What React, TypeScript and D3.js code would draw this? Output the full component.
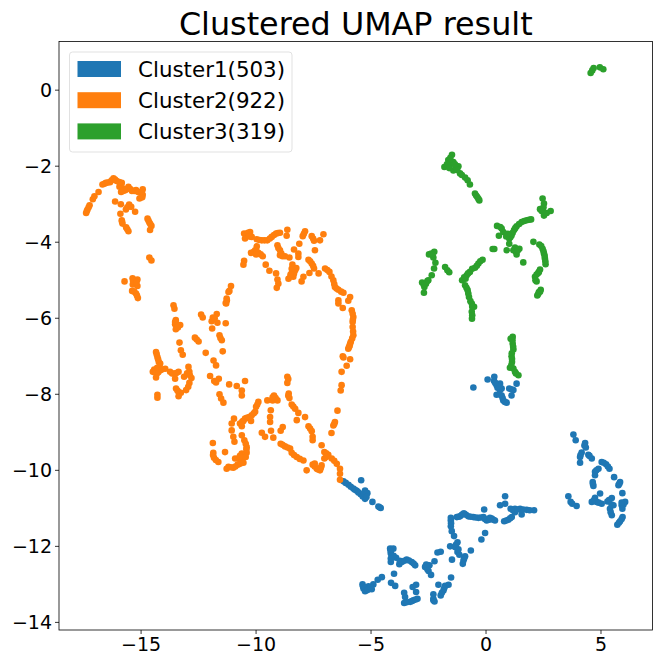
import React from "react";
import * as d3 from "d3";

const title = "Clustered UMAP result";
const clusterNames = ["Cluster1(503)", "Cluster2(922)", "Cluster3(319)"];
const clusterColors = ["#1f77b4", "#ff7f0e", "#2ca02c"];
const xTicks = [-15, -10, -5, 0, 5];
const yTicks = [0, -2, -4, -6, -8, -10, -12, -14];

const cluster1: [number, number][] = [
[-0.55,-7.82],[0.07,-7.61],[0.36,-7.54],[0.35,-7.65],[0.46,-7.76],[0.61,-7.72],[0.68,-7.85],[1.01,-7.85],[1.19,-7.89],[1.33,-7.72],[1.11,-8.03],[0.46,-8.01],[0.68,-8.03],[0.75,-8.16],[0.9,-8.22],[0.61,-7.89],
[-6.2,-10.29],[-5.98,-10.38],[-5.77,-10.48],[-5.62,-10.54],[-5.45,-10.63],[-5.26,-10.75],[-5.43,-10.26],[-5.26,-10.53],[-5.16,-10.6],[-4.94,-10.83],[-4.68,-10.95],[-4.58,-10.99],
[-1.53,-11.32],[-1.53,-11.47],[-1.49,-11.6],[-1.39,-11.73],[-1.27,-11.23],[-0.95,-11.14],[-1.13,-11.21],[-0.77,-11.21],[-0.55,-11.23],[-0.33,-11.25],[-0.11,-11.23],[-0.08,-11.03],[0.03,-11.32],[0.25,-11.27],[0.39,-11.32],[0.79,-11.34],[0.97,-11.3],[1.12,-11.23],[0.61,-10.92],[0.83,-10.88],[0.83,-10.68],[1.07,-11.01],[1.26,-11.01],[1.48,-11.01],[1.77,-11.04],[2.09,-11.05],[1.55,-11.16],[1.26,-11.1],
[-0.04,-11.65],[-0.2,-11.82],[-0.66,-12.11],[-1.24,-11.89],[-1.56,-12],[-1.35,-12.02],[-1.24,-12.15],[-1.16,-12.22],[-1.48,-12.35],[-0.91,-12.26],[-0.98,-12.37],[-1.01,-12.46],[-2.11,-12.16],[-1.97,-12.14],[-2.24,-12.39],[-2.65,-12.54],[-2.46,-12.5],[-2.5,-12.65],[-2.39,-12.75],
[-4.17,-12.06],[-4.03,-12.06],[-4.14,-12.19],[-4.14,-12.41],[-3.91,-12.3],[-3.77,-12.47],[-3.66,-12.41],[-3.45,-12.35],[-3.23,-12.41],[-3.08,-12.5],[-4,-12.72],[-4.13,-12.96],[-3.95,-13.04],[-4.53,-12.81],[-4.71,-12.88],[-5.37,-13],[-5.33,-13.11],[-5.26,-13.18],[-5.11,-13.05],[-4.97,-13.13],[-4.9,-13],
[-3.04,-13.01],[-3.19,-13.07],[-3.56,-13.22],[-3.52,-13.33],[-3.56,-13.49],[-3.3,-13.46],[-3.16,-13.42],[-2.98,-13.38],[-3.04,-13.2],[-2.29,-13.26],[-2.29,-13.42],[-2.07,-13.01],[-1.78,-13.04],[-1.85,-13.16],[-1.97,-13.29],[-1.63,-13.01],[-1.52,-12.82],
[3.8,-9.06],[3.9,-9.21],[4.31,-9.28],[4.34,-9.4],[4.16,-9.53],[4.09,-9.65],[4.09,-9.8],[4.45,-9.59],[4.6,-9.69],[5.03,-9.78],[5.22,-9.84],[5.37,-9.96],[4.89,-9.96],[4.74,-10.04],[4.74,-10.13],[5.57,-10.18],[5.83,-10.31],[5.76,-10.39],[4.64,-10.31],[4.67,-10.41],[5.93,-10.6],[4.96,-10.61],[4.74,-10.72],[4.6,-10.83],[4.81,-10.83],[5.03,-10.88],[5.47,-10.73],[5.28,-10.82],[5.54,-10.92],[5.39,-11.01],[5.47,-11.18],[6.05,-10.83],[5.9,-10.92],[5.93,-11.01],[5.94,-11.23],[5.83,-11.34],[5.71,-11.43],[3.58,-10.68],[3.68,-10.83],[3.94,-10.94],
[-6.1,-10.33],[-5.88,-10.43],[-5.7,-10.51],[-5.55,-10.58],[-5.36,-10.69],[-5.3,-10.6],[-5.2,-10.7],[-4.63,-10.97],
[-1.2,-11.22],[-1.05,-11.17],[-0.87,-11.17],[-0.66,-11.22],[-0.44,-11.24],[-0.22,-11.24],[-0.05,-11.28],[0.14,-11.3],[0.32,-11.3],[0.17,-11.25],[0.88,-11.32],[1.05,-11.26],[1.17,-11.05],[1.37,-11.03],[1.62,-11.03],[1.9,-11.05],[-0.98,-11.14],[-1.52,-11.39],[-1.53,-11.25],
[-5.2,-13.1],[-5.35,-13.05],[-5.15,-13.15],[-5.02,-13.08],[-3.75,-12.38],[-3.55,-12.38],[-3.35,-12.37],[-3.15,-12.45],[-4.15,-12.12],[-4.02,-12.25],[-4.14,-12.32],[-3.45,-13.47],[-3.22,-13.44],[-3.07,-13.4],[-2.29,-13.38],[-2.24,-13.45],[-1.92,-13.22],[-1.82,-13.1],[-1.2,-12.08],[-1.3,-11.95],[-2.55,-12.6],[-2.6,-12.48],[-0.95,-12.32],
[0.5,-7.83],[0.55,-7.8],[0.72,-8.1],[0.82,-8.2],[0.58,-8],[0.4,-7.7],[1.1,-7.87],
[4.28,-9.35],[4.11,-9.6],[4.5,-9.62],[5.12,-9.8],[5.3,-9.9],[4.8,-10],[5.8,-10.35],[4.65,-10.36],[4.7,-10.78],[4.9,-10.85],[5.35,-10.78],[5.46,-10.9],[5.42,-11.1],[5.98,-10.9],[5.9,-10.85],[5.78,-11.38],[5.9,-11.28],[3.75,-10.88],
];

const cluster2: [number, number][] = [
[-17.39,-3.23],[-17.33,-3.14],[-17.24,-3.03],[-17.1,-2.87],[-17.03,-2.79],[-16.85,-2.68],[-16.68,-2.48],[-16.53,-2.44],[-16.35,-2.42],[-16.2,-2.32],[-16.06,-2.39],[-15.84,-2.44],[-15.94,-2.54],[-15.87,-2.68],[-15.69,-2.63],[-15.55,-2.54],[-15.4,-2.65],[-15.22,-2.63],[-15.04,-2.7],[-14.93,-2.61],[-14.93,-2.75],[-15.07,-2.85],
[-16.13,-2.93],[-15.88,-3],[-15.9,-3.25],[-15.66,-3.14],[-15.52,-3.01],[-15.43,-3.07],[-15.26,-3.2],[-15.84,-3.42],[-15.81,-3.51],[-15.65,-3.61],[-15.55,-3.71],[-14.72,-3.38],[-14.64,-3.48],[-14.55,-3.57],[-14.61,-3.68],[-14.64,-4.4],[-14.55,-4.48],
[-15.72,-5.03],[-15.37,-4.95],[-15.16,-4.98],[-15.36,-5.11],[-15.16,-5.15],[-15.39,-5.28],[-15.22,-5.35],[-15.14,-5.47],
[-13.59,-5.66],[-13.55,-5.75],[-13.49,-6.05],[-13.52,-6.16],[-13.3,-6.18],[-13.49,-6.29],[-12.39,-5.9],[-12.32,-5.98],[-11.71,-5.89],[-11.88,-5.98],[-11.93,-6.08],[-11.68,-6.12],[-11.32,-6.13],[-11.91,-6.27],[-12.66,-6.51],[-12.5,-6.61],[-11.59,-6.45],[-11.49,-6.58],[-13.33,-6.64],[-13.27,-6.84],[-13.19,-6.96],[-12.19,-6.91],[-11.45,-6.87],[-11.85,-7.11],[-11.74,-7.24],[-12,-7.52],[-11.82,-7.65],[-11.62,-7.59],[-11.74,-7.69],[-11.17,-7.74],[-11.59,-8],[-11.52,-8.11],[-11.42,-8.22],
[-14.35,-6.89],[-14.29,-7.02],[-14.23,-7.15],[-14.17,-7.19],[-14.43,-7.35],[-14.32,-7.46],[-14.17,-7.37],[-13.95,-7.33],[-13.74,-7.41],[-13.56,-7.46],[-13.37,-7.41],[-13.52,-7.59],[-13.13,-7.54],[-12.94,-7.28],[-12.9,-7.41],[-12.81,-7.57],[-12.9,-7.7],[-13.04,-7.89],[-13.48,-7.85],[-13.37,-7.94],[-13.27,-7.96],[-13.37,-8.05],[-14.29,-8.01],[-14.29,-8.09],[-14.35,-7.56],[-14.49,-7.41],
[-11.27,-5.53],[-11.2,-5.31],[-11.32,-5.6],
[-10.52,-3.77],[-10.48,-3.9],[-10.26,-3.73],[-10.19,-3.86],[-9.97,-3.92],[-9.75,-3.95],[-9.51,-3.95],[-9.32,-3.86],[-9.13,-3.77],[-8.96,-3.75],[-8.64,-3.67],[-8.67,-3.83],[-7.87,-3.71],[-7.97,-3.84],[-7.58,-3.84],[-7.48,-3.96],[-7.07,-3.79],[-7.22,-3.95],[-7.44,-4.21],[-8.12,-4.04],[-8.35,-4.19],[-8.16,-4.3],[-8.16,-4.39],
[-9.97,-4.11],[-10.22,-4.28],[-10.04,-4.21],[-9.9,-4.28],[-9.71,-4.37],[-9.07,-4.08],[-8.96,-4.21],[-8.96,-4.34],[-8.74,-4.37],[-8.55,-4.4],[-10.52,-4.49],[-10.55,-4.59],[-7.72,-4.46],[-7.58,-4.56],[-7.48,-4.69],[-7.68,-4.81],[-7.28,-4.82],[-8.42,-4.59],[-8.3,-4.74],[-8.45,-4.82],[-8.59,-4.96],[-8.38,-4.91],[-7.94,-4.91],[-8.02,-5.03],[-9.58,-4.59],[-9.42,-4.75],[-9.13,-4.82],[-9.07,-4.98],[-9.03,-5.09],[-9.1,-5.2],
[-7,-4.69],[-6.81,-4.78],[-6.64,-5],[-6.57,-5.18],[-6.42,-5.25],[-6.2,-5.33],[-5.91,-5.44],[-5.99,-5.54],[-6.42,-5.53],[-6.42,-5.61],[-6.23,-5.73],[-5.84,-5.79],[-5.77,-5.97],[-5.8,-6.1],[-5.8,-6.23],[-5.77,-6.45],[-5.88,-6.62],[-5.99,-6.8],[-5.91,-6.67],[-6.23,-7],[-5.91,-7.08],[-6.06,-7.25],[-6.28,-7.41],[-6.28,-7.76],[-6.32,-7.9],[-6.46,-8.43],[-6.57,-8.73],[-6.64,-8.82],[-6.72,-9.02],[-7.15,-9.34],
[-11.09,-5.15],[-11.16,-5.28],[-11.28,-5.48],[-11.3,-5.61],
[-10.84,-7.78],[-10.48,-7.65],[-10.62,-7.9],[-10.62,-8.03],
[-8.64,-7.54],[-8.64,-7.7],[-8.58,-7.98],[-8.55,-8.1],[-8.45,-8.27],[-8.3,-8.38],[-8.16,-8.49],[-8.23,-8.68],[-7.87,-8.6],[-7.72,-8.84],[-7.58,-8.97],[-7.54,-9.12],[-7.54,-9.21],
[-9.22,-8.03],[-9.51,-8.16],[-9.28,-8.16],[-9.07,-8.16],[-9.9,-8.2],[-10,-8.33],[-10.04,-8.46],[-10.19,-8.55],[-10.48,-8.64],[-10.7,-8.77],[-10.62,-8.84],[-10.22,-8.7],[-10.96,-8.64],[-11.06,-8.77],[-11.06,-8.95],[-10.99,-9.12],[-10.94,-9.25],[-9.36,-8.42],[-9.39,-8.6],[-9.39,-8.73],[-9.35,-8.96],[-8.84,-8.86],[-8.93,-8.96],[-9.75,-9.01],[-9.61,-9.12],[-9.25,-9.14],
[-10.62,-9.08],[-10.51,-9.21],[-10.41,-9.39],[-10.41,-9.54],[-10.62,-9.56],[-10.77,-9.69],[-10.62,-9.74],[-10.91,-9.69],[-10.7,-9.83],[-10.99,-9.93],[-11.2,-9.91],[-11.35,-9.52],[-11.88,-9.28],[-11.86,-9.54],[-11.83,-9.67],[-11.64,-9.78],[-11.28,-9.96],
[-8.93,-9.3],[-8.74,-9.37],[-8.52,-9.43],[-8.45,-9.54],[-8.23,-9.65],[-7.94,-9.74],[-7.8,-10],[-7.54,-9.85],[-7.36,-9.96],[-7.22,-10],[-7.15,-9.87],[-7.03,-9.52],[-6.86,-9.59],[-7.03,-9.69],[-6.71,-9.69],[-6.49,-9.83],[-6.35,-9.96],[-6.35,-10.09],[-6.35,-10.25],
[-16.6,-2.46],[-16.45,-2.43],[-16.28,-2.37],[-16.13,-2.35],[-15.95,-2.42],[-15.8,-2.58],[-15.78,-2.65],[-15.62,-2.6],[-15.47,-2.6],[-15.3,-2.65],[-15.13,-2.68],[-14.98,-2.68],[-14.95,-2.82],[-17.36,-3.18],[-17.28,-3.08],
[-14.68,-3.43],[-14.6,-3.52],[-15.6,-3.66],[-15.83,-3.46],[-15.6,-3.08],[-15.35,-5.02],[-15.2,-5.05],[-15.3,-5.3],[-15.18,-5.4],[-13.52,-6.1],[-13.42,-6.17],[-13.4,-6.24],[-11.8,-6],[-12.58,-6.56],[-11.55,-6.52],
[-14.32,-6.95],[-14.26,-7.08],[-14.38,-7.4],[-14.25,-7.42],[-14.2,-7.28],[-14.3,-7.3],[-14.1,-7.35],[-13.65,-7.45],[-13.47,-7.44],[-13,-7.45],[-12.88,-7.5],[-12.95,-7.8],[-13.42,-7.9],
[-6.9,-4.73],[-6.72,-4.9],[-6.6,-5.1],[-6.5,-5.22],[-6.3,-5.3],[-5.8,-5.88],[-5.79,-6.04],[-5.78,-6.35],[-5.82,-6.53],[-5.93,-6.72],[-5.96,-6.76],[-6.2,-7.03],[-6.6,-8.78],
[-9.85,-3.94],[-9.63,-3.95],[-9.4,-3.9],[-9.22,-3.81],[-9.05,-3.76],[-10.35,-3.75],[-10.3,-3.85],[-10.1,-4.25],[-9.97,-4.25],[-9.8,-4.32],[-10,-4.32],[-7.92,-3.78],[-7.52,-3.9],[-8.42,-4.77],[-8.5,-4.9],[-8.35,-4.82],[-8.25,-4.68],[-8.45,-4.7],[-8.5,-4.85],[-7.65,-4.5],[-7.52,-4.62],[-9.03,-4.15],[-8.9,-4.3],[-8.85,-4.37],
[-10.55,-8.7],[-10.4,-8.62],[-10.3,-8.6],[-10.6,-8.72],[-9.95,-8.27],[-10.1,-8.5],[-10.6,-9.65],[-10.5,-9.6],[-10.45,-9.65],[-10.7,-9.62],[-10.55,-9.8],[-10.8,-9.85],[-10.9,-9.9],[-11.1,-9.92],[-10.42,-9.45],[-10.45,-9.3],[-11.75,-9.73],[-11.87,-9.6],
[-8.85,-9.33],[-8.63,-9.4],[-8.35,-9.6],[-8.1,-9.7],[-7.45,-9.9],[-7.3,-9.98],[-7.45,-9.82],[-7.18,-9.93],[-6.95,-9.55],[-6.95,-9.65],[-6.6,-9.75],[-8.6,-8.04],[-8.38,-8.32],[-8.6,-7.6],[-7.65,-8.9],[-9.15,-8.1],[-9.28,-8.08],
];

const cluster3: [number, number][] = [
[4.55,0.45],[4.62,0.52],[4.68,0.58],[4.95,0.6],[5.1,0.55],
[-1.48,-1.7],[-1.64,-1.84],[-1.42,-1.89],[-1.81,-2.02],[-1.57,-1.97],[-1.2,-2],[-1.42,-2.11],[-1.13,-2.19],[-0.91,-2.3],[-0.8,-2.37],[-0.7,-2.48],[-0.48,-2.72],[-0.38,-2.81],[-0.29,-2.9],
[2.46,-2.85],[2.52,-2.98],[2.35,-3.13],[2.49,-3.2],[2.64,-3.23],[2.81,-3.18],[2.52,-3.3],[1.96,-3.4],[1.77,-3.42],[1.55,-3.47],[1.33,-3.58],[1.22,-3.68],[1.11,-3.82],[1.01,-3.9],[0.75,-3.73],[0.48,-3.57],[0.68,-3.64],[0.56,-3.83],[0.29,-4.18],[0.36,-4.18],[1.01,-4.04],[0.9,-4.21],[1.26,-4.14],[1.45,-4.17],[1.19,-4.21],[1.33,-4.32],[1.62,-4.53],
[2.06,-3.99],[2.32,-4.06],[2.46,-4.17],[2.52,-4.3],[2.56,-4.43],[2.59,-4.58],[2.35,-4.72],[2.27,-4.81],[2.13,-4.91],[2.2,-5.03],[2.38,-5.25],[2.3,-5.31],[2.23,-5.4],
[-2.25,-4.25],[-2.48,-4.32],[-2.29,-4.4],[-2.2,-4.54],[-2.26,-4.69],[-2.36,-4.87],[-2.51,-5],[-2.61,-5.09],[-2.78,-5.06],[-2.68,-5.18],[-2.7,-5.33],[-1.78,-4.65],[-1.68,-4.74],[-1.6,-4.79],
[-0.15,-4.46],[-0.33,-4.56],[-0.48,-4.67],[-0.7,-4.78],[-0.84,-4.87],[-0.89,-4.96],[-1.04,-5],[-0.91,-5.13],[-0.8,-5.26],[-0.74,-5.44],[-0.62,-5.61],[-0.52,-5.7],[-0.62,-5.83],[-0.61,-6.01],
[1.16,-6.49],[1.07,-6.54],[1.16,-6.67],[1.19,-6.82],[1.11,-7],[1.13,-7.15],[1.04,-7.3],[1.19,-7.32],[1.26,-7.41],[1.41,-7.5],
[-1.55,-1.78],[-1.5,-1.9],[-1.7,-1.95],[-1.6,-2.05],[-1.3,-2.05],[-1.35,-1.95],[-1.25,-2.1],[-1.05,-2.23],[-0.43,-2.77],[-0.33,-2.86],
[1.87,-3.41],[1.66,-3.44],[1.44,-3.52],[1.27,-3.63],[1.16,-3.75],[1.06,-3.87],[0.62,-3.6],[0.88,-3.85],[0.95,-3.78],[1.3,-4.25],[1.38,-4.22],[2.4,-4.1],[2.5,-4.24],[2.55,-4.36],[2.58,-4.5],[2.3,-4.78],[2.2,-4.85],[2.15,-5],[2.35,-5.3],[2.27,-5.36],
[-2.38,-4.3],[-2.33,-4.33],[-2.55,-5.02],[-2.71,-5.12],[-0.25,-4.5],[-0.4,-4.62],[-0.6,-4.7],[-0.78,-4.82],[-0.95,-4.92],[-0.85,-5.2],[-0.77,-5.35],[-0.68,-5.55],[-0.6,-5.7],[-0.6,-5.92],[1.15,-6.58],[1.18,-6.75],[1.12,-6.92],[1.13,-7.07],[1.1,-7.23],[1.3,-7.45],[2.5,-3.08],[2.42,-3.18],[2.58,-3.24],
];

const clusters = [cluster1, cluster2, cluster3];

const x = d3.scaleLinear().domain([-18.57, 7.24]).range([59, 652.5]);
const y = d3.scaleLinear().domain([1.28, -14.2]).range([41.5, 630]);
const font = "'DejaVu Sans', sans-serif";
const fmt = (v: number) => (v < 0 ? "\u2212" + Math.abs(v) : String(v));

export default function App() {
  return (
    <svg width={660} height={653} style={{ position: "absolute", left: 0, top: 0, background: "#fff" }} fontFamily={font}>
      <text x={(x.range()[0] + x.range()[1]) / 2} y={34.5} textAnchor="middle" fontSize={31.8} fill="#000">{title}</text>
      {clusters.map((pts, i) => (
        <g key={i} fill={clusterColors[i]}>
          {pts.map((p, j) => <circle key={j} cx={x(p[0])} cy={y(p[1])} r={3.3} />)}
        </g>
      ))}
      <rect x={59} y={41.5} width={593.5} height={588.5} fill="none" stroke="#000" strokeWidth={0.8} />
      {xTicks.map(t => (
        <g key={t}>
          <line x1={x(t)} x2={x(t)} y1={630} y2={634} stroke="#000" strokeWidth={0.8} />
          <text x={x(t)} y={650.5} textAnchor="middle" fontSize={19}>{fmt(t)}</text>
        </g>
      ))}
      {yTicks.map(t => (
        <g key={t}>
          <line x1={55} x2={59} y1={y(t)} y2={y(t)} stroke="#000" strokeWidth={0.8} />
          <text x={52} y={y(t) + 6.8} textAnchor="end" fontSize={19}>{fmt(t)}</text>
        </g>
      ))}
      <rect x={69.5} y={52} width={222.5} height={100} rx={3} fill="#fff" fillOpacity={0.8} stroke="#d9d9d9" strokeWidth={0.8} />
      {clusterNames.map((n, i) => (
        <g key={n}>
          <rect x={77.5} y={61 + i * 31.2} width={43.5} height={16} fill={clusterColors[i]} />
          <text x={138} y={76.5 + i * 31.2} fontSize={21.4}>{n}</text>
        </g>
      ))}
    </svg>
  );
}
